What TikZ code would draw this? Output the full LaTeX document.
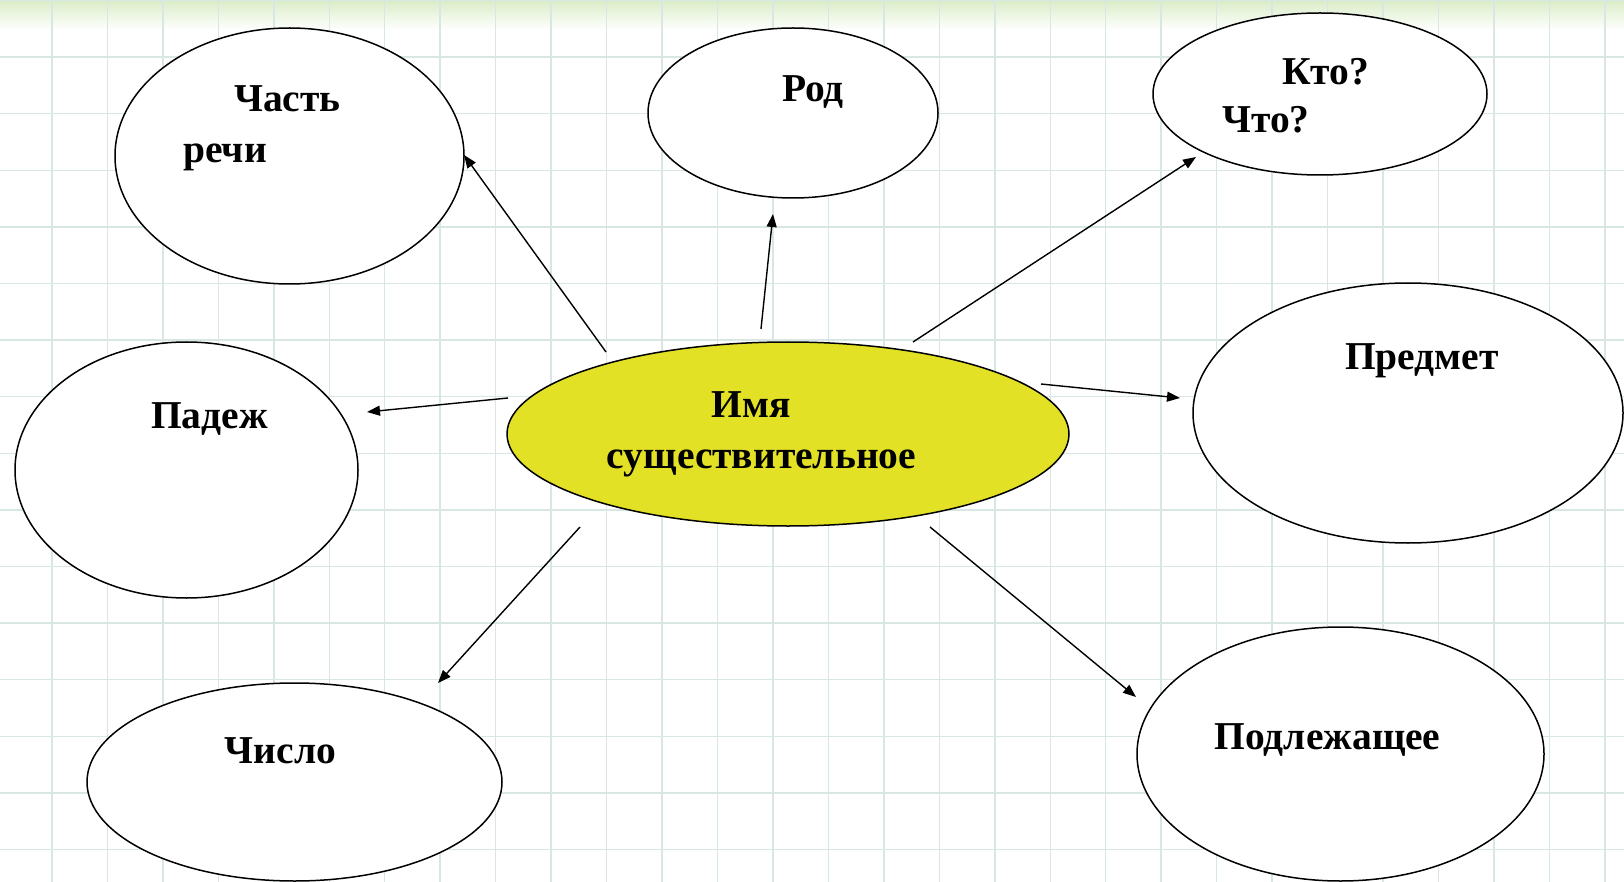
\documentclass[tikz,border=0pt]{standalone}
\usepackage{fontspec}
\setmainfont{Liberation Serif}
\usetikzlibrary{shapes.geometric,arrows.meta}
\definecolor{gridc}{RGB}{216,231,227}
\definecolor{topgreen}{RGB}{218,236,198}
\definecolor{centerfill}{RGB}{227,225,38}
\tikzset{
  bubble/.style={ellipse,draw=black,line width=1.5pt,fill=white,inner sep=0pt},
  lbl/.style={inner sep=0pt,font=\fontsize{39.5}{47}\selectfont\bfseries},
  arr/.style={line width=1.4pt,-{Triangle[length=13pt,width=10pt]}}
}
\begin{document}
\begin{tikzpicture}[x=1pt,y=-1pt]
\useasboundingbox (0,0) rectangle (1624,882);
% background
\fill[white] (0,0) rectangle (1624,882);
\shade[top color=topgreen,bottom color=white] (0,0) rectangle (1624,30);
% grid
\foreach \i in {0,...,29} {
  \draw[gridc,line width=1.5pt] ({-3.5+55.46*\i},0) -- ({-3.5+55.46*\i},882);
}
\foreach \j in {0,...,15} {
  \draw[gridc,line width=1.5pt] (0,{0.5+56.6*\j}) -- (1624,{0.5+56.6*\j});
}
% ellipses
\node[bubble,minimum width=349pt,minimum height=256pt] (chast) at (289.5,156) {};
\node[bubble,minimum width=290pt,minimum height=170pt] (rod) at (793,113) {};
\node[bubble,minimum width=334pt,minimum height=162pt] (kto) at (1320,94) {};
\node[bubble,minimum width=343pt,minimum height=256pt] (padezh) at (186.5,470) {};
\node[bubble,fill=centerfill,minimum width=562pt,minimum height=184pt] (imya) at (788,434) {};
\node[bubble,minimum width=430pt,minimum height=260pt] (predmet) at (1408,413) {};
\node[bubble,minimum width=415pt,minimum height=198pt] (chislo) at (294.5,782) {};
\node[bubble,minimum width=407pt,minimum height=254pt] (podl) at (1340.5,754) {};
% labels
\node[lbl,anchor=base] (t1) at (287.5,112) {Часть};
\node[lbl,anchor=base west] (t2) at (183,163) {речи};
\node[lbl,anchor=base] (t3) at (813,102) {Род};
\node[lbl,anchor=base] (t4) at (1326,85) {Кто?};
\node[lbl,anchor=base west] (t5) at (1222,133) {Что?};
\node[lbl,anchor=base] (t6) at (209.5,428) {Падеж};
\node[lbl,anchor=base] (t7) at (751,417) {Имя};
\node[lbl,anchor=base] (t8) at (761.5,468) {существительное};
\node[lbl,anchor=base] (t9) at (1422,370) {Предмет};
\node[lbl,anchor=base] (t10) at (280.5,763) {Число};
\node[lbl,anchor=base] (t11) at (1327.5,749) {Подлежащее};
% arrow end points
\coordinate (s1) at (606,352);  \coordinate (e1) at (464,155);
\coordinate (s2) at (761,329);  \coordinate (e2) at (773,214);
\coordinate (s3) at (913,342);  \coordinate (e3) at (1196,157);
\coordinate (s4) at (508,398);  \coordinate (e4) at (367,412);
\coordinate (s5) at (1041,384); \coordinate (e5) at (1180,398);
\coordinate (s6) at (580,527);  \coordinate (e6) at (438,683);
\coordinate (s7) at (930,527);  \coordinate (e7) at (1136,697);
\draw[arr] (s1) -- (e1);
\draw[arr] (s2) -- (e2);
\draw[arr] (s3) -- (e3);
\draw[arr] (s4) -- (e4);
\draw[arr] (s5) -- (e5);
\draw[arr] (s6) -- (e6);
\draw[arr] (s7) -- (e7);
\end{tikzpicture}
\end{document}
